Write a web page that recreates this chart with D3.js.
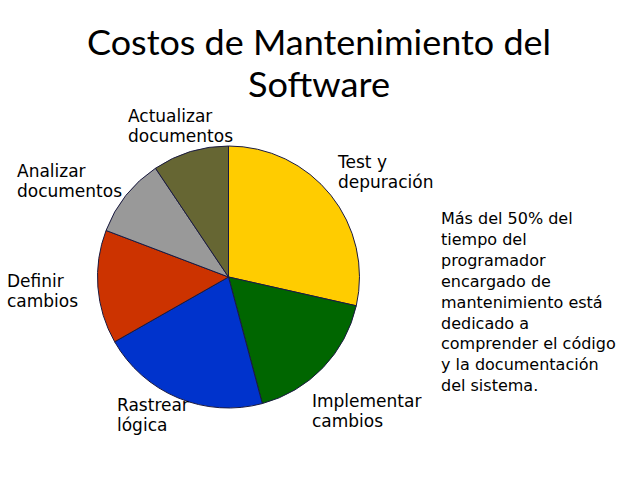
<!DOCTYPE html>
<html>
<head>
<meta charset="utf-8">
<script src="https://cdn.jsdelivr.net/npm/d3@7"></script>
<style>
  body { margin: 0; background: #fff; }
  svg { display: block; }
</style>
</head>
<body>
<div id="chart"></div>
<script>
// slice data, clockwise from 12 o'clock
const categories = ['Test y depuración', 'Implementar cambios', 'Rastrear lógica',
                    'Definir cambios', 'Analizar documentos', 'Actualizar documentos'];
const values = [28.5, 17.3, 20.9, 14.0, 9.8, 9.4];
const colors = ['#FFCC00', '#006600', '#0033CC', '#CC3300', '#999999', '#666633'];
// label lines and where they sit
const labelLines = [['Test y', 'depuración'], ['Implementar', 'cambios'], ['Rastrear', 'lógica'],
                    ['Definir', 'cambios'], ['Analizar', 'documentos'], ['Actualizar', 'documentos']];
const labelPos = [[338, 168], [312, 407], [117, 411], [7, 287], [17, 177], [128, 122]];
const titleLines = ['Costos de Mantenimiento del', 'Software'];
const noteLines = ['Más del 50% del', 'tiempo del', 'programador', 'encargado de',
                   'mantenimiento está', 'dedicado a', 'comprender el código',
                   'y la documentación', 'del sistema.'];

const width = 638, height = 479;
const svg = d3.select('#chart').append('svg')
    .attr('width', width).attr('height', height);

// title
svg.append('g').selectAll('text').data(titleLines).enter().append('text')
    .attr('x', 319)
    .attr('y', (d, i) => 55 + i * 42)
    .attr('text-anchor', 'middle')
    .style('font-family', 'Lato, sans-serif')
    .style('font-size', '34.5px')
    .attr('fill', '#000')
    .attr('textLength', (d, i) => i === 0 ? 464 : 142)   // squeeze to the original width
    .attr('lengthAdjust', 'spacingAndGlyphs')
    .text(d => d);

// pie
const cx = 228.5, cy = 277, radius = 131;
const pie = d3.pie().sort(null).value(d => d);
const arc = d3.arc().innerRadius(0).outerRadius(radius);

const g = svg.append('g').attr('transform', 'translate(' + cx + ',' + cy + ')');
g.selectAll('path').data(pie(values)).enter().append('path')
    .attr('d', arc)
    .attr('fill', (d, i) => colors[i])
    .attr('stroke', '#1a1a40')
    .attr('stroke-width', 1);

// slice labels
const labels = svg.append('g')
    .style('font-family', '"DejaVu Sans", Verdana, sans-serif')
    .style('font-size', '17px');
categories.forEach((c, i) => {
    const t = labels.append('text')
        .attr('x', labelPos[i][0])
        .attr('y', labelPos[i][1])
        .attr('fill', '#000');
    labelLines[i].forEach((line, j) => {
        t.append('tspan')
            .attr('x', labelPos[i][0])
            .attr('dy', j === 0 ? 0 : 20)
            .text(line);
    });
});

// side note
const note = svg.append('text')
    .attr('x', 441).attr('y', 224)
    .style('font-family', '"DejaVu Sans", Verdana, sans-serif')
    .style('font-size', '16px')
    .attr('fill', '#000');
note.selectAll('tspan').data(noteLines).enter().append('tspan')
    .attr('x', 441)
    .attr('dy', (d, i) => i === 0 ? 0 : 20.9)
    .text(d => d);
</script>
</body>
</html>
